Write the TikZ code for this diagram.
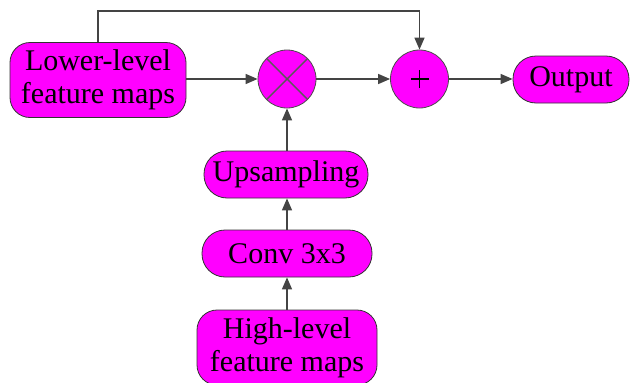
\documentclass[tikz,border=0pt]{standalone}
\usepackage{fontspec}
\setmainfont{Liberation Serif}
\usetikzlibrary{arrows.meta}
\definecolor{mag}{HTML}{FF00FF}
\definecolor{ln}{HTML}{444444}
\begin{document}
\begin{tikzpicture}[x=1pt,y=-1pt,
  box/.style={draw=black!80,line width=0.8pt,fill=mag,rounded corners=20pt,inner sep=0pt,align=center,
    font=\fontsize{30}{33}\selectfont},
  opc/.style={draw=black!70,line width=0.8pt,fill=mag,circle,minimum size=58pt,inner sep=0pt},
  xfill/.style={fill=black!65},
  conn/.style={draw=ln,line width=1.5pt,-{Triangle[length=12pt,width=10pt]}}]
\useasboundingbox (0,0) rectangle (630,383);
\node[box,minimum width=176pt,minimum height=75pt] (low) at (98,80) {Lower-level\\feature maps};
\node[opc] (mul) at (287,79) {};
\node[opc] (add) at (419.5,79) {};
\node[box,minimum width=116pt,minimum height=47pt,rounded corners=23pt] (out) at (571,79.5) {Output};
\node[box,minimum width=164pt,minimum height=47pt,rounded corners=23pt] (up) at (286,174.5) {Upsampling};
\node[box,minimum width=170pt,minimum height=47pt,rounded corners=23pt] (conv) at (287,253.5) {Conv 3x3};
\node[box,minimum width=180pt,minimum height=75pt] (high) at (287,347.5) {High-level\\feature maps};
\fill[xfill] ([shift={(-21,20)}]mul.center) -- ([shift={(20,-21)}]mul.center) -- ([shift={(21,-20)}]mul.center) -- ([shift={(-20,21)}]mul.center) -- cycle;
\fill[xfill] ([shift={(-21,-20)}]mul.center) -- ([shift={(20,21)}]mul.center) -- ([shift={(21,20)}]mul.center) -- ([shift={(-20,-21)}]mul.center) -- cycle;
\fill[black] ([shift={(-9,-0.7)}]add.center) rectangle ([shift={(9,0.7)}]add.center);
\fill[black] ([shift={(-0.7,-9)}]add.center) rectangle ([shift={(0.7,9)}]add.center);
\coordinate (c1) at (98,11);
\coordinate (c2) at (419.5,11);
\draw[draw=ln,line width=1.5pt] (low.north) -- (c1) -- (c2);
\draw[conn] (c2) -- (add.north);
\draw[conn] (low.east |- mul) -- (mul.west);
\draw[conn] (mul.east) -- (add.west);
\draw[conn] (add.east) -- (out.west |- add);
\draw[conn] (up.north -| mul) -- (mul.south);
\draw[conn] (conv.north) -- (up.south -| conv.north);
\draw[conn] (high.north) -- (conv.south);
\end{tikzpicture}
\end{document}
